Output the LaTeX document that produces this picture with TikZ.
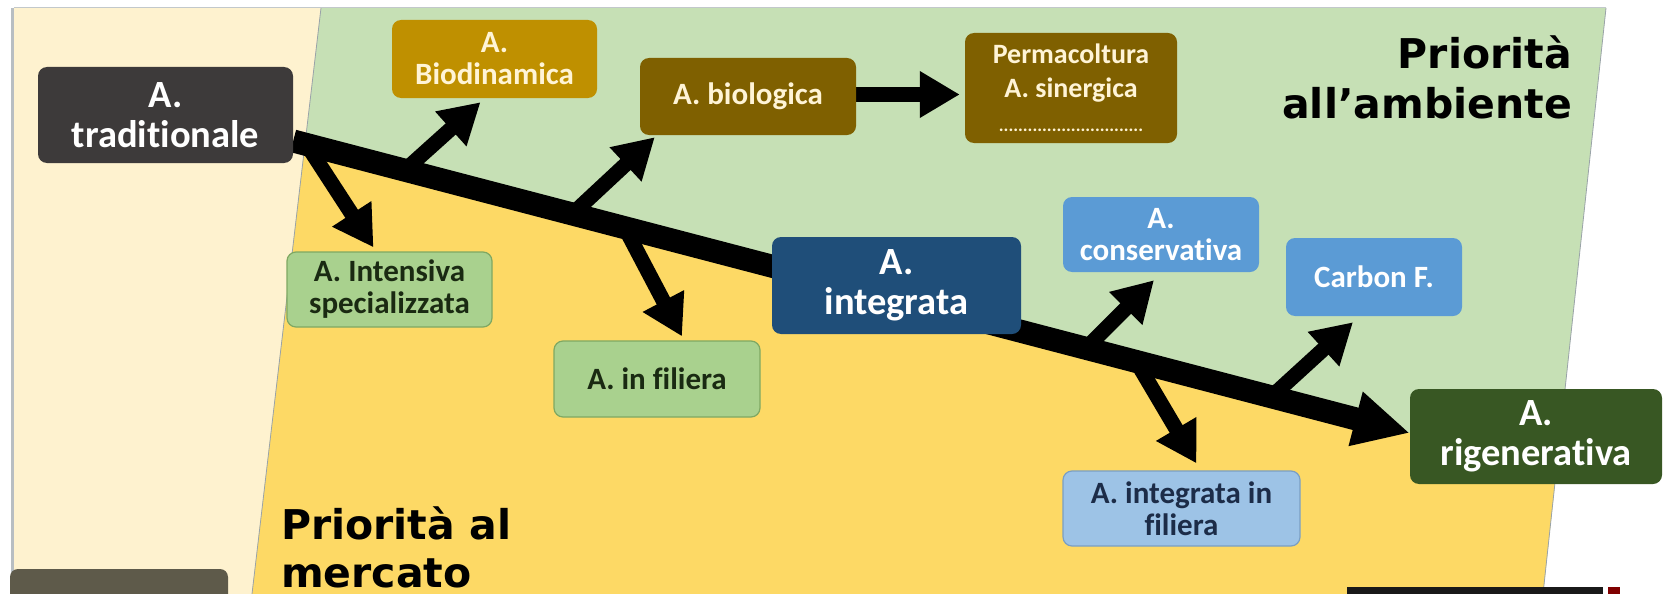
\documentclass[tikz,border=0pt]{standalone}
\usepackage{fontspec}
\setmainfont{Carlito}[Ligatures={NoCommon,NoRare}]
\newfontfamily\titlefont{DejaVu Sans}
\usetikzlibrary{arrows.meta,calc}
\pgfdeclarelayer{bg}
\pgfdeclarelayer{arr}
\pgfsetlayers{bg,arr,main}
\definecolor{cream}{HTML}{FEF2CF}
\definecolor{lgreen}{HTML}{C6E0B5}
\definecolor{lyellow}{HTML}{FDD965}
\definecolor{tradc}{HTML}{3D3A3A}
\definecolor{goldc}{HTML}{BF9000}
\definecolor{brownc}{HTML}{7F6000}
\definecolor{pgreen}{HTML}{A9D18E}
\definecolor{pgreenb}{HTML}{7FA862}
\definecolor{navyc}{HTML}{1F4E79}
\definecolor{bluec}{HTML}{5B9BD5}
\definecolor{lblue}{HTML}{9DC3E6}
\definecolor{lblueb}{HTML}{7A9FC4}
\definecolor{dgreen}{HTML}{385723}
\definecolor{creamtxt}{HTML}{FFF4D6}
\definecolor{darktxt}{HTML}{1A2A12}
\definecolor{navytxt}{HTML}{1C2C48}
\definecolor{edgegray}{HTML}{9AA3A8}
\definecolor{botbox}{HTML}{5E5A4A}
\begin{document}
\begin{tikzpicture}[x=1pt,y=-1pt,
  box/.style={rounded corners=9pt, align=center, inner sep=0pt},
  big/.style={font=\bfseries\fontsize{38.5}{40}\selectfont},
  small/.style={font=\bfseries\fontsize{31}{32}\selectfont},
  title/.style={font=\titlefont\bfseries\fontsize{41}{48}\selectfont, inner sep=0pt, text=black},
  mainarr/.style={line width=23pt, -{Triangle[length=56pt,width=52pt]}},
  brarr/.style={line width=15pt, -{Triangle[length=40pt,width=44pt]}},
]
\useasboundingbox (0,0) rectangle (1665,594);

% boxes
\node[box, big, fill=tradc, text=white, minimum width=255pt, minimum height=96pt] (trad) at (165.5,115) {A.\\traditionale};
\node[box, small, fill=goldc, text=creamtxt, minimum width=205pt, minimum height=78pt] (bio) at (494.5,59) {A.\\Biodinamica};
\node[box, small, fill=brownc, text=creamtxt, minimum width=216pt, minimum height=77pt] (biol) at (748,96.5) {A. biologica};
\node[box, fill=brownc, text=creamtxt, minimum width=212pt, minimum height=110pt, font=\bfseries\fontsize{28}{34}\selectfont] (perma) at (1071,88) {Permacoltura\\A. sinergica\\{\fontsize{18}{22}\selectfont ..............................}};
\node[box, small, fill=pgreen, draw=pgreenb, line width=1.2pt, text=darktxt, minimum width=205pt, minimum height=75pt] (intens) at (389.5,289.5) {A. Intensiva\\specializzata};
\node[box, small, fill=pgreen, draw=pgreenb, line width=1.2pt, text=darktxt, minimum width=206pt, minimum height=76pt] (fil) at (657,379) {A. in filiera};
\node[box, big, fill=navyc, text=white, minimum width=249pt, minimum height=97pt] (integ) at (896.5,285.5) {A.\\integrata};
\node[box, small, fill=bluec, text=white, minimum width=196pt, minimum height=75pt] (cons) at (1161,234.5) {A.\\conservativa};
\node[box, small, fill=bluec, text=white, minimum width=176pt, minimum height=78pt] (carb) at (1374,277) {Carbon F.};
\node[box, small, fill=lblue, draw=lblueb, line width=1.2pt, text=navytxt, minimum width=237pt, minimum height=75pt] (intfil) at (1181.5,508.5) {A. integrata in\\filiera};
\node[box, big, fill=dgreen, text=white, minimum width=252pt, minimum height=95pt] (rig) at (1536,436.5) {A.\\rigenerativa};

% titles
\node[title, anchor=base east] (t1) at (1572,68) {Priorità};
\node[title, anchor=base east] (t2) at (1572,118) {all’ambiente};
\node[title, anchor=base west] (t3) at (281,539) {Priorità al};
\node[title, anchor=base west] (t4) at (281,587) {mercato};

% main line coordinates
\coordinate (ms) at ([yshift=-26pt]trad.east);
\coordinate (me) at ([yshift=3.5pt]rig.west);
\coordinate (mint) at ($(ms)!0.012!(me)$);
\coordinate (mbio) at ($(ms)!0.10!(me)$);
\coordinate (mbiol) at ($(ms)!0.25!(me)$);
\coordinate (mfil) at ($(ms)!0.297!(me)$);
\coordinate (mcons) at ($(ms)!0.71!(me)$);
\coordinate (mintfil) at ($(ms)!0.755!(me)$);
\coordinate (mcarb) at ($(ms)!0.876!(me)$);

% background regions
\coordinate (lt) at (321,8);
\coordinate (lb) at (252,594);
\coordinate (rt) at (1606,8);
\coordinate (rb) at (1543,594);
\begin{pgfonlayer}{bg}
\fill[white] (0,0) rectangle (1665,594);
\fill[cream] (14,8) -- (lt) -- (lb) -- (14,594) -- cycle;
\fill[lgreen] (lt) -- (rt) -- (rb) -- (lb) -- cycle;
\fill[lyellow] (intersection of ms--me and lt--lb) -- (intersection of ms--me and rt--rb) -- (rb) -- (lb) -- cycle;
\draw[edgegray, line width=0.8pt] (lt) -- (lb);
\draw[edgegray, line width=0.8pt] (rt) -- (rb);
\draw[edgegray!60, line width=1pt] (14,8) -- (rt);
\draw[edgegray!70, line width=3pt] (12,8) -- (12,594);
\fill[botbox, rounded corners=8pt] (10,610) -- (10,569) -- (228,569) -- (228,610) -- cycle;
\fill[black!90] (1347,587) rectangle (1603,594);
\fill[red!50!black] (1608,587) rectangle (1620,594);
\end{pgfonlayer}

% arrows
\begin{pgfonlayer}{arr}
\draw[mainarr] (ms) -- (me);
\draw[brarr] (mint) -- ([xshift=-16pt,yshift=4pt]intens.north);
\draw[brarr] (mbio) -- ([xshift=-14pt,yshift=-4pt]bio.south);
\draw[brarr] (mbiol) -- ([xshift=15pt,yshift=-2pt]biol.south west);
\draw[brarr] (mfil) -- ([xshift=25pt,yshift=4pt]fil.north);
\draw[brarr] (mcons) -- ([xshift=-7pt,yshift=-8pt]cons.south);
\draw[brarr] (mintfil) -- ([xshift=15pt,yshift=7pt]intfil.north);
\draw[brarr] (mcarb) -- ([xshift=-21pt,yshift=-6pt]carb.south);
\draw[brarr] ([yshift=2pt]biol.east) -- ($([yshift=2pt]biol.east -| perma.west)+(-5pt,0)$);
\end{pgfonlayer}
\end{tikzpicture}
\end{document}
